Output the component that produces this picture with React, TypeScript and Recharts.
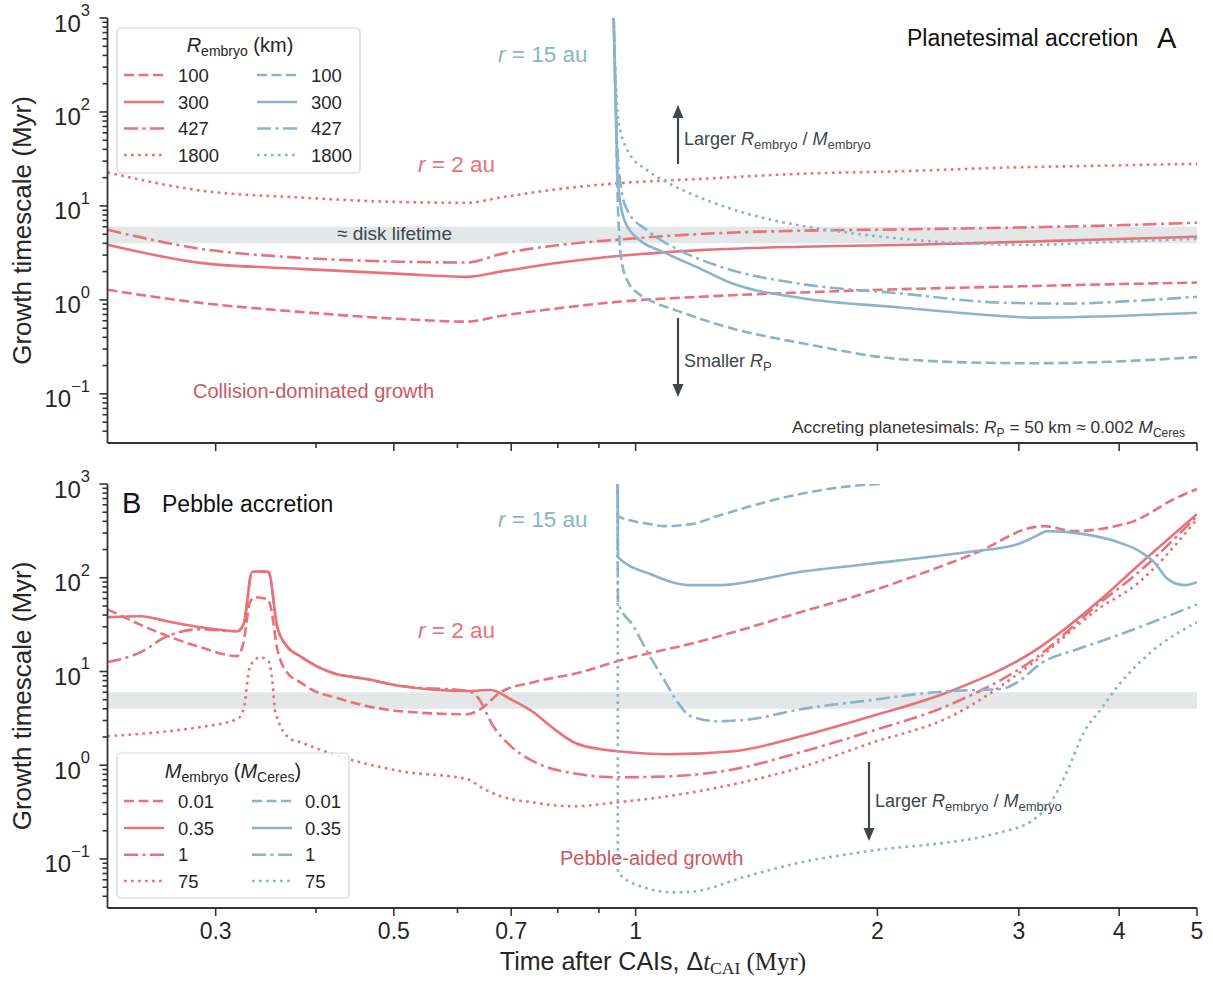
import React from 'react';
import { LineChart, Line, XAxis, YAxis, ReferenceArea } from 'recharts';

// ---------------- axes / ticks ----------------
const X_DOMAIN = [0.22, 5];
const Y_DOMAIN = [0.03, 1000];
const X_MAJOR = [0.3, 0.5, 0.7, 1, 2, 3, 4, 5];
const X_MINOR = [0.4, 0.6, 0.8, 0.9];
const Y_MAJOR = [0.1, 1, 10, 100, 1000];
const Y_MINOR = [
  0.04, 0.05, 0.06, 0.07, 0.08, 0.09,
  0.2, 0.3, 0.4, 0.5, 0.6, 0.7, 0.8, 0.9,
  2, 3, 4, 5, 6, 7, 8, 9,
  20, 30, 40, 50, 60, 70, 80, 90,
  200, 300, 400, 500, 600, 700, 800, 900,
];
const DISK_LIFETIME = [4, 6];

// ---------------- Panel A: planetesimal accretion ----------------
// r = 2 au (red), R_embryo = 100 / 300 / 427 / 1800 km
const A_RED_T = [0.22, 0.287, 0.382, 0.51, 0.617, 0.679, 0.806, 0.958, 1.205, 1.606, 2.138, 2.849, 3.796, 5.0];
const A_RED_100 = [1.28, 0.93, 0.745, 0.627, 0.587, 0.675, 0.82, 0.96, 1.08, 1.2, 1.3, 1.38, 1.46, 1.53];
const A_RED_300 = [3.86, 2.48, 2.14, 1.89, 1.76, 2.0, 2.5, 2.95, 3.39, 3.68, 3.84, 4.09, 4.4, 4.7];
const A_RED_427 = [5.58, 3.5, 2.81, 2.55, 2.5, 3.07, 3.85, 4.4, 5.03, 5.45, 5.63, 5.85, 6.16, 6.63];
const A_RED_1800 = [22.7, 14.6, 12.3, 11.0, 10.8, 12.3, 15.2, 17.5, 19.4, 22.0, 23.4, 25.5, 26.8, 28.1];

// r = 15 au (blue)
const A_BLUE_100_T = [0.939, 0.945, 0.95, 0.955, 0.963, 0.98, 1.009, 1.059, 1.128, 1.205, 1.325, 1.606, 2.138, 2.849, 3.13, 3.796, 5.0];
const A_BLUE_100 = [1000, 100, 11.4, 4.26, 2.31, 1.52, 1.16, 0.929, 0.764, 0.627, 0.491, 0.348, 0.234, 0.213, 0.212, 0.218, 0.246];
const A_BLUE_300_T = [0.939, 0.945, 0.95, 0.969, 1.014, 1.074, 1.205, 1.313, 1.606, 2.138, 2.849, 3.13, 3.796, 5.0];
const A_BLUE_300 = [1000, 100, 18.6, 6.97, 4.26, 3.33, 2.14, 1.52, 1.05, 0.83, 0.675, 0.647, 0.667, 0.73];
const A_BLUE_427_T = [0.939, 0.945, 0.958, 0.977, 1.035, 1.138, 1.287, 1.606, 2.138, 2.849, 3.452, 4.17, 5.0];
const A_BLUE_427 = [1000, 100, 16.5, 8.9, 5.45, 3.33, 2.2, 1.48, 1.17, 0.936, 0.913, 0.976, 1.08];
const A_BLUE_1800_T = [0.939, 0.945, 0.952, 0.977, 1.035, 1.084, 1.171, 1.313, 1.606, 1.765, 2.138, 2.59, 3.13, 3.796, 5.0];
const A_BLUE_1800 = [1000, 200, 81, 38.9, 23.8, 18.6, 13.5, 9.35, 6.16, 5.45, 4.48, 3.99, 3.86, 4.09, 4.48];

// ---------------- Panel B: pebble accretion ----------------
// r = 2 au (red), M_embryo = 0.01 / 0.35 / 1 / 75 M_Ceres
const B_RED_001_T = [0.22, 0.261, 0.287, 0.319, 0.325, 0.331, 0.336, 0.348, 0.351, 0.358, 0.368, 0.382, 0.4015, 0.417, 0.4636, 0.51, 0.617, 0.641, 0.679, 0.746, 0.854, 0.95, 1.205, 1.606, 1.946, 2.352, 2.668, 3.133, 3.224, 3.513, 3.907, 4.174, 4.68, 5.0];
const B_RED_001 = [46, 24, 18.2, 14.6, 20.5, 54.9, 62, 59, 50, 17.3, 9.8, 7.7, 6.0, 5.45, 4.26, 3.77, 3.5, 3.96, 6.0, 7.7, 9.8, 12.9, 21, 43, 70, 124, 188, 347, 355, 314, 347, 402, 690, 883];
const B_RED_035_T = [0.22, 0.242, 0.261, 0.287, 0.319, 0.325, 0.333, 0.341, 0.349, 0.358, 0.368, 0.382, 0.417, 0.4636, 0.51, 0.617, 0.66, 0.699, 0.746, 0.784, 0.837, 0.905, 0.95, 1.096, 1.325, 1.606, 1.946, 2.47, 3.133, 3.796, 4.174, 5.0];
const B_RED_035 = [38, 38.9, 34.4, 29.7, 26.9, 32, 115, 117, 115, 29.7, 18.6, 14.6, 9.8, 8.28, 7.0, 6.2, 6.35, 5.06, 3.68, 2.6, 1.76, 1.48, 1.41, 1.31, 1.41, 2.04, 3.25, 6.2, 16.5, 59, 123, 477];
const B_RED_1_T = [0.22, 0.242, 0.261, 0.287, 0.319, 0.325, 0.333, 0.341, 0.349, 0.358, 0.368, 0.382, 0.417, 0.4636, 0.51, 0.617, 0.636, 0.665, 0.699, 0.746, 0.823, 0.95, 1.096, 1.325, 1.606, 1.946, 2.47, 3.133, 3.796, 4.174, 5.0];
const B_RED_1 = [12.6, 16.1, 23.8, 28.2, 26.9, 32, 115, 117, 115, 29.7, 18.6, 14.6, 9.8, 8.28, 7.0, 6.2, 5.3, 2.6, 1.6, 1.1, 0.84, 0.745, 0.76, 0.906, 1.38, 2.25, 4.48, 13.5, 55, 104, 454];
const B_RED_75_T = [0.22, 0.261, 0.287, 0.319, 0.325, 0.331, 0.341, 0.349, 0.353, 0.356, 0.372, 0.382, 0.42, 0.51, 0.617, 0.647, 0.679, 0.746, 0.837, 0.95, 1.096, 1.325, 1.606, 1.946, 2.47, 3.133, 3.796, 4.174, 5.0];
const B_RED_75 = [2.04, 2.3, 2.55, 3.1, 3.96, 11.4, 14.2, 12.9, 7.7, 3.68, 1.9, 1.76, 1.31, 0.863, 0.71, 0.56, 0.467, 0.4, 0.365, 0.403, 0.467, 0.627, 0.95, 1.68, 3.33, 12.6, 48.6, 81, 422];

// r = 15 au (blue)
const B_BLUE_001_T = [0.95, 0.9505, 1.044, 1.084, 1.171, 1.287, 1.56, 1.853, 2.02];
const B_BLUE_001 = [1000, 454, 373, 355, 373, 477, 745, 950, 1000];
const B_BLUE_035_T = [0.95, 0.9505, 1.044, 1.171, 1.265, 1.606, 1.946, 2.592, 2.99, 3.133, 3.262, 3.615, 3.986, 4.257, 4.42, 4.6, 4.82, 5.0];
const B_BLUE_035 = [1000, 166, 109, 83.4, 83.4, 116, 140, 188, 228, 271, 314, 292, 240, 188, 147, 96.6, 83.4, 89.6];
const B_BLUE_1_T = [0.95, 0.9505, 0.994, 1.035, 1.084, 1.128, 1.171, 1.265, 1.391, 1.606, 1.907, 2.447, 2.849, 2.99, 3.2, 3.55, 3.796, 4.174, 5.0];
const B_BLUE_1 = [1000, 55, 30.3, 16, 8.27, 4.7, 3.33, 2.95, 3.1, 3.96, 4.8, 6.16, 6.5, 7.7, 12.3, 17.3, 21, 28.2, 52];
const B_BLUE_75_T = [0.95, 0.9505, 1.023, 1.115, 1.181, 1.363, 1.606, 1.907, 2.849, 3.133, 3.289, 3.454, 3.615, 3.796, 3.986, 4.38, 5.0];
const B_BLUE_75 = [1000, 0.072, 0.05, 0.044, 0.045, 0.064, 0.092, 0.118, 0.193, 0.265, 0.403, 0.906, 2.25, 3.96, 7.0, 16, 33.6];

const LEGEND_A_LABELS = ['100', '300', '427', '1800'];
const LEGEND_B_LABELS = ['0.01', '0.35', '1', '75'];

// ---------------- styles ----------------
const RED = '#e9727a';
const BLUE = '#8ab4cc';
const RED_TEXT = '#c95960';
const BAND = '#e3e7e8';
const AXIS = '#333333';
const INK = '#262626';
const SLATE = '#3d474d';
const SANS = '"Liberation Sans", Arial, Helvetica, sans-serif';
const SERIF = '"Liberation Serif", "Times New Roman", serif';
const DASHES: Record<string, string | undefined> = {
  dashed: '10 4.5',
  solid: undefined,
  dashdot: '14 4.5 3 4.5',
  dotted: '2.7 4.3',
};
const STYLE_ORDER = ['dashed', 'solid', 'dashdot', 'dotted'];
const LW = 2.6;

const zip = (t: number[], v: number[]) => t.map((x, i) => ({ t: x, v: v[i] }));
const X_TICKS = [...X_MAJOR, ...X_MINOR].sort((a, b) => a - b);
const Y_TICKS = [...Y_MAJOR, ...Y_MINOR].sort((a, b) => a - b);

const SERIES_A = [
  { key: 'ar100', data: zip(A_RED_T, A_RED_100), color: RED, style: 'dashed' },
  { key: 'ar300', data: zip(A_RED_T, A_RED_300), color: RED, style: 'solid' },
  { key: 'ar427', data: zip(A_RED_T, A_RED_427), color: RED, style: 'dashdot' },
  { key: 'ar1800', data: zip(A_RED_T, A_RED_1800), color: RED, style: 'dotted' },
  { key: 'ab1800', data: zip(A_BLUE_1800_T, A_BLUE_1800), color: BLUE, style: 'dotted' },
  { key: 'ab100', data: zip(A_BLUE_100_T, A_BLUE_100), color: BLUE, style: 'dashed' },
  { key: 'ab427', data: zip(A_BLUE_427_T, A_BLUE_427), color: BLUE, style: 'dashdot' },
  { key: 'ab300', data: zip(A_BLUE_300_T, A_BLUE_300), color: BLUE, style: 'solid' },
];

const SERIES_B = [
  { key: 'br001', data: zip(B_RED_001_T, B_RED_001), color: RED, style: 'dashed' },
  { key: 'br75', data: zip(B_RED_75_T, B_RED_75), color: RED, style: 'dotted' },
  { key: 'br1', data: zip(B_RED_1_T, B_RED_1), color: RED, style: 'dashdot' },
  { key: 'br035', data: zip(B_RED_035_T, B_RED_035), color: RED, style: 'solid' },
  { key: 'bb001', data: zip(B_BLUE_001_T, B_BLUE_001), color: BLUE, style: 'dashed' },
  { key: 'bb75', data: zip(B_BLUE_75_T, B_BLUE_75), color: BLUE, style: 'dotted' },
  { key: 'bb1', data: zip(B_BLUE_1_T, B_BLUE_1), color: BLUE, style: 'dashdot' },
  { key: 'bb035', data: zip(B_BLUE_035_T, B_BLUE_035), color: BLUE, style: 'solid' },
];

// ---------------- tick renderers ----------------
const XTick = (props: any) => {
  const { x, y, payload, showLabel } = props;
  const v = payload.value;
  const major = X_MAJOR.includes(v);
  return (
    <g>
      <line x1={x} x2={x} y1={y} y2={y + (major ? 8 : 5)} stroke={AXIS} strokeWidth={1.6} />
      {showLabel && major && (
        <text x={x} y={y + 31} textAnchor="middle" fontSize={23} fontFamily={SANS} fill={INK}>
          {String(v)}
        </text>
      )}
    </g>
  );
};

const YTick = (props: any) => {
  const { x, y, payload } = props;
  const v = payload.value;
  const lg = Math.log10(v);
  const exp = Math.round(lg);
  const major = Math.abs(lg - exp) < 1e-6;
  return (
    <g>
      <line x1={x - (major ? 8 : 5)} x2={x} y1={y} y2={y} stroke={AXIS} strokeWidth={1.6} />
      {major && (
        <text x={x - 17.5} y={y + 13.5} textAnchor="end" fontSize={24} fontFamily={SANS} fill={INK}>
          10
          <tspan dy={-15.5} fontSize={16.5}>{exp < 0 ? '\u2212' + -exp : String(exp)}</tspan>
        </text>
      )}
    </g>
  );
};

function Panel({ series, height, top, xHeight, showLabels }: any) {
  return (
    <LineChart width={1213} height={height} margin={{ top, right: 16, bottom: 0, left: 0 }}>
      <ReferenceArea y1={DISK_LIFETIME[0]} y2={DISK_LIFETIME[1]} fill={BAND} fillOpacity={1} stroke="none" />
      <XAxis
        type="number"
        dataKey="t"
        scale="log"
        domain={X_DOMAIN}
        allowDataOverflow
        ticks={X_TICKS}
        interval={0}
        tickSize={0}
        tickMargin={0}
        tickLine={false}
        height={xHeight}
        tick={<XTick showLabel={showLabels} />}
        axisLine={{ stroke: AXIS, strokeWidth: 1.8 }}
      />
      <YAxis
        type="number"
        scale="log"
        domain={Y_DOMAIN}
        allowDataOverflow
        ticks={Y_TICKS}
        interval={0}
        tickSize={0}
        tickMargin={0}
        tickLine={false}
        width={107.5}
        tick={<YTick />}
        axisLine={{ stroke: AXIS, strokeWidth: 1.8 }}
      />
      {series.map((s: any) => (
        <Line
          key={s.key}
          data={s.data}
          dataKey="v"
          type="monotone"
          stroke={s.color}
          strokeWidth={LW}
          strokeDasharray={DASHES[s.style]}
          dot={false}
          activeDot={false}
          isAnimationActive={false}
        />
      ))}
    </LineChart>
  );
}

// ---------------- overlay helpers ----------------
function Arrow({ x, y1, y2 }: { x: number; y1: number; y2: number }) {
  const dir = y2 > y1 ? 1 : -1;
  const base = y2 - dir * 13;
  return (
    <g>
      <line x1={x} x2={x} y1={y1} y2={base} stroke={SLATE} strokeWidth={2.2} />
      <polygon points={`${x},${y2} ${x - 5.5},${base} ${x + 5.5},${base}`} fill={SLATE} />
    </g>
  );
}

function LegendBox({ x, y, w, h, title, labels, rows, blueX, blueLabelX }: any) {
  return (
    <g>
      <rect x={x} y={y} width={w} height={h} rx={4} fill="#ffffff" fillOpacity={0.8} stroke="#d4d4d4" strokeWidth={1.2} />
      {title}
      {STYLE_ORDER.map((st, i) => (
        <g key={st}>
          <line x1={124} x2={164} y1={rows[i]} y2={rows[i]} stroke={RED} strokeWidth={LW} strokeDasharray={DASHES[st]} />
          <text x={178} y={rows[i] + 6.5} fontSize={18.5} fontFamily={SANS} fill={INK}>{labels[i]}</text>
          <line x1={blueX} x2={blueX + 40} y1={rows[i]} y2={rows[i]} stroke={BLUE} strokeWidth={LW} strokeDasharray={DASHES[st]} />
          <text x={blueLabelX} y={rows[i] + 6.5} fontSize={18.5} fontFamily={SANS} fill={INK}>{labels[i]}</text>
        </g>
      ))}
    </g>
  );
}

const LargerText = ({ x, y }: { x: number; y: number }) => (
  <text x={x} y={y} fontSize={18} fontFamily={SANS} fill={SLATE}>
    Larger <tspan fontStyle="italic">R</tspan>
    <tspan dy={4} fontSize={13}>embryo</tspan>
    <tspan dy={-4}> / </tspan>
    <tspan fontStyle="italic">M</tspan>
    <tspan dy={4} fontSize={13}>embryo</tspan>
  </text>
);

function Overlay() {
  return (
    <svg width={1213} height={983} style={{ position: 'absolute', left: 0, top: 0, pointerEvents: 'none' }}>
      {/* axis labels */}
      <text x={0} y={0} transform="translate(22,230.5) rotate(-90)" textAnchor="middle" dominantBaseline="central" fontSize={26} fontFamily={SANS} fill={INK}>
        Growth timescale (Myr)
      </text>
      <text x={0} y={0} transform="translate(22,696) rotate(-90)" textAnchor="middle" dominantBaseline="central" fontSize={26} fontFamily={SANS} fill={INK}>
        Growth timescale (Myr)
      </text>
      <text x={653} y={970} textAnchor="middle" fontSize={25} fontFamily={SANS} fill={INK}>
        Time after CAIs, Δ
        <tspan fontFamily={SERIF} fontStyle="italic">t</tspan>
        <tspan fontFamily={SERIF} fontSize={17.5} dy={4}>CAI</tspan>
        <tspan fontFamily={SERIF} dy={-4}> (Myr)</tspan>
      </text>

      {/* Panel A annotations */}
      <text x={907} y={46} fontSize={23} fontFamily={SANS} fill="#111">Planetesimal accretion</text>
      <text x={1157} y={48} fontSize={29} fontFamily={SANS} fill="#111">A</text>
      <text x={498} y={62} fontSize={22.5} fontFamily={SANS} fill={BLUE}>
        <tspan fontStyle="italic">r</tspan> = 15 au
      </text>
      <text x={418} y={172} fontSize={22.5} fontFamily={SANS} fill={RED}>
        <tspan fontStyle="italic">r</tspan> = 2 au
      </text>
      <Arrow x={678} y1={164} y2={105} />
      <LargerText x={684} y={145} />
      <Arrow x={678} y1={318} y2={397} />
      <text x={684} y={367} fontSize={18} fontFamily={SANS} fill={SLATE}>
        Smaller <tspan fontStyle="italic">R</tspan>
        <tspan dy={4} fontSize={13}>P</tspan>
      </text>
      <text x={337} y={240} fontSize={19} fontFamily={SANS} fill={SLATE}>≈ disk lifetime</text>
      <text x={193} y={398} fontSize={20} fontFamily={SANS} fill={RED_TEXT}>Collision-dominated growth</text>
      <text x={792} y={433} fontSize={17.3} fontFamily={SANS} fill={AXIS}>
        Accreting planetesimals: <tspan fontStyle="italic">R</tspan>
        <tspan dy={4} fontSize={12}>P</tspan>
        <tspan dy={-4}> = 50 km  ≈ 0.002 </tspan>
        <tspan fontStyle="italic">M</tspan>
        <tspan dy={4} fontSize={12}>Ceres</tspan>
      </text>
      <LegendBox
        x={117}
        y={28}
        w={243}
        h={145}
        rows={[75, 102, 128.5, 155]}
        labels={LEGEND_A_LABELS}
        blueX={257}
        blueLabelX={311}
        title={
          <text x={240} y={52} textAnchor="middle" fontSize={20} fontFamily={SANS} fill={INK}>
            <tspan fontStyle="italic">R</tspan>
            <tspan dy={4} fontSize={14}>embryo</tspan>
            <tspan dy={-4}> (km)</tspan>
          </text>
        }
      />

      {/* Panel B annotations */}
      <text x={122} y={513} fontSize={29} fontFamily={SANS} fill="#111">B</text>
      <text x={162} y={512} fontSize={23} fontFamily={SANS} fill="#111">Pebble accretion</text>
      <text x={498} y={527} fontSize={22.5} fontFamily={SANS} fill={BLUE}>
        <tspan fontStyle="italic">r</tspan> = 15 au
      </text>
      <text x={418} y={638} fontSize={22.5} fontFamily={SANS} fill={RED}>
        <tspan fontStyle="italic">r</tspan> = 2 au
      </text>
      <text x={560} y={865} fontSize={20} fontFamily={SANS} fill={RED_TEXT}>Pebble-aided growth</text>
      <Arrow x={869} y1={762} y2={841} />
      <LargerText x={875} y={807} />
      <LegendBox
        x={117}
        y={753}
        w={232}
        h={145}
        rows={[801, 828, 854.7, 881]}
        labels={LEGEND_B_LABELS}
        blueX={252}
        blueLabelX={305}
        title={
          <text x={233} y={778} textAnchor="middle" fontSize={20} fontFamily={SANS} fill={INK}>
            <tspan fontStyle="italic">M</tspan>
            <tspan dy={4} fontSize={14}>embryo</tspan>
            <tspan dy={-4}> (</tspan>
            <tspan fontStyle="italic">M</tspan>
            <tspan dy={4} fontSize={14}>Ceres</tspan>
            <tspan dy={-4}>)</tspan>
          </text>
        }
      />
    </svg>
  );
}

export default function App() {
  return (
    <div style={{ position: 'absolute', left: 0, top: 0, width: 1213, height: 983, background: '#ffffff', fontFamily: SANS }}>
      <div style={{ position: 'absolute', left: 0, top: 0 }}>
        <Panel series={SERIES_A} height={460} top={18} xHeight={17} showLabels={false} />
      </div>
      <div style={{ position: 'absolute', left: 0, top: 460 }}>
        <Panel series={SERIES_B} height={523} top={24} xHeight={75} showLabels={true} />
      </div>
      <Overlay />
    </div>
  );
}
